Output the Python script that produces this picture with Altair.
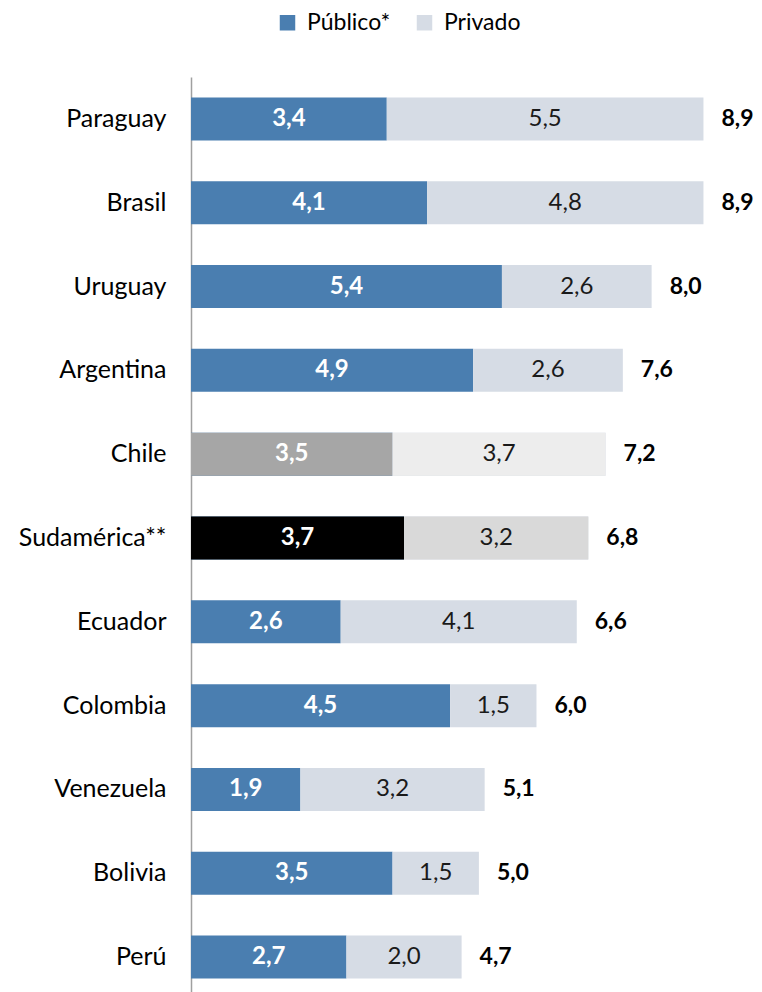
import altair as alt
import pandas as pd

countries = ["Paraguay", "Brasil", "Uruguay", "Argentina", "Chile", "Sudamérica**",
             "Ecuador", "Colombia", "Venezuela", "Bolivia", "Perú"]
publico = [3.4, 4.1, 5.4, 4.9, 3.5, 3.7, 2.6, 4.5, 1.9, 3.5, 2.7]
privado = [5.5, 4.8, 2.6, 2.6, 3.7, 3.2, 4.1, 1.5, 3.2, 1.5, 2.0]
total = [8.9, 8.9, 8.0, 7.6, 7.2, 6.8, 6.6, 6.0, 5.1, 5.0, 4.7]
series = ["Público*", "Privado"]

BLUE, LIGHT = "#4A7EB0", "#D6DCE5"
special_colors = {"Chile": ("#A6A6A6", "#EDEDED"), "Sudamérica**": ("#000000", "#D9D9D9")}

def fmt(v):
    return f"{v:.1f}".replace(".", ",")

rows = []
for c, pu, pr, t in zip(countries, publico, privado, total):
    cols = special_colors.get(c, (BLUE, LIGHT))
    rows.append(dict(pais=c, serie=series[0], start=0, end=pu, mid=pu / 2, label=fmt(pu),
                     fill=cols[0], special=c in special_colors))
    rows.append(dict(pais=c, serie=series[1], start=pu, end=pu + pr, mid=pu + pr / 2, label=fmt(pr),
                     fill=cols[1], special=c in special_colors))
df = pd.DataFrame(rows)
df_tot = pd.DataFrame(dict(pais=countries, end=[p + q for p, q in zip(publico, privado)],
                           label=[fmt(t) for t in total]))

FONT = "Lato"
FS = 24
y = alt.Y("pais:N", sort=countries,
          scale=alt.Scale(paddingInner=0.487, paddingOuter=0.2435),
          axis=alt.Axis(title=None, ticks=False, labelFontSize=25, labelColor="#000000",
                        labelFont=FONT, labelPadding=25, domainColor="#A0A0A0", domainWidth=1.5))
xscale = alt.Scale(domain=[0, 9.5])

base = alt.Chart(df)
bars = base.mark_bar().encode(
    y=y,
    x=alt.X("start:Q", scale=xscale, axis=None),
    x2="end:Q",
    color=alt.Color("serie:N", scale=alt.Scale(domain=series, range=[BLUE, LIGHT]),
                    sort=series,
                    legend=alt.Legend(title=None, orient="none", direction="horizontal",
                                      legendX=85, legendY=-66, symbolType="square",
                                      symbolSize=240, symbolStrokeWidth=0, labelFontSize=23,
                                      labelFont=FONT, labelColor="#000000", columnPadding=22,
                                      symbolOpacity=1, labelOffset=8)),
)
special = base.transform_filter("datum.special").mark_bar().encode(
    y=alt.Y("pais:N", sort=countries),
    x=alt.X("start:Q", scale=xscale),
    x2="end:Q",
    color=alt.Color("fill:N", scale=None),
)
pub_text = base.transform_filter(alt.datum.serie == series[0]).mark_text(
    font=FONT, fontSize=FS, fontWeight="bold", color="#FFFFFF").encode(
    y=alt.Y("pais:N", sort=countries), x=alt.X("mid:Q", scale=xscale), text="label:N")
priv_text = base.transform_filter(alt.datum.serie == series[1]).mark_text(
    font=FONT, fontSize=FS, color="#1A1A1A").encode(
    y=alt.Y("pais:N", sort=countries), x=alt.X("mid:Q", scale=xscale), text="label:N")
tot_text = alt.Chart(df_tot).mark_text(
    font=FONT, fontSize=23, fontWeight="bold", color="#000000", align="left", dx=18).encode(
    y=alt.Y("pais:N", sort=countries), x=alt.X("end:Q", scale=xscale), text="label:N")

chart = alt.layer(bars, special, pub_text, priv_text, tot_text).resolve_scale(
    color="independent"
).properties(
    width=547, height=922, autosize="none",
    padding={"left": 183, "top": 69, "right": 16, "bottom": 0},
).configure_view(stroke=None)

chart.save("out.html", embed_options={"renderer": "svg", "actions": False})
